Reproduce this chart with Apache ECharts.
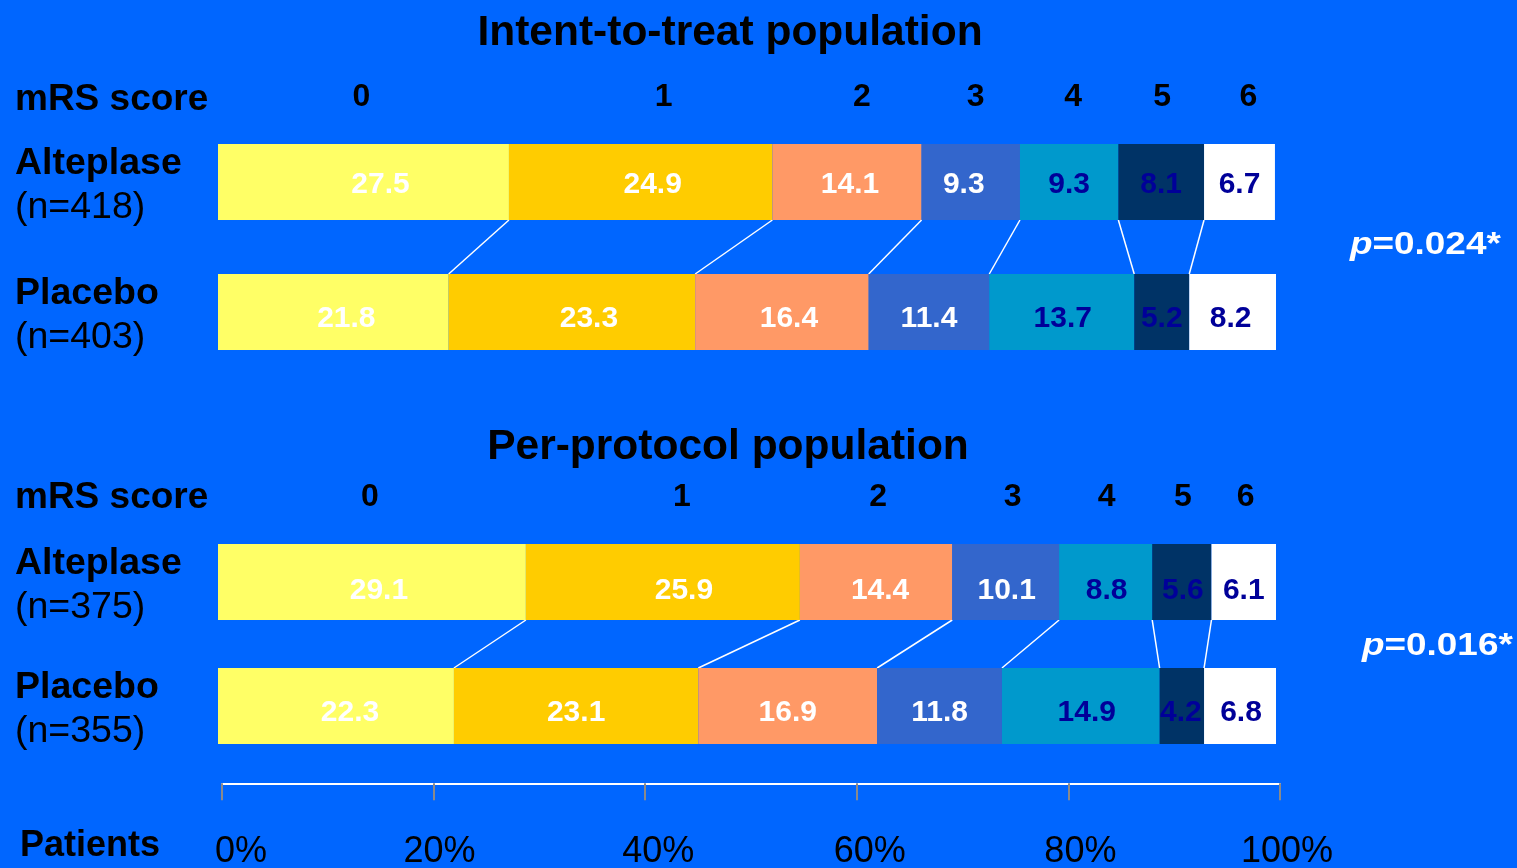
<!DOCTYPE html>
<html>
<head>
<meta charset="utf-8">
<script src="https://cdn.jsdelivr.net/npm/echarts@6/dist/echarts.min.js"></script>
<style>
  html, body { margin: 0; padding: 0; background: #0066FF; }
  #chart { width: 1517px; height: 868px; }
</style>
</head>
<body>
<div id="chart"></div>
<script>
// mRS outcome distribution (% of patients) by treatment arm
const mrsScores = ['0', '1', '2', '3', '4', '5', '6'];
const groups = ['Alteplase', 'Placebo'];
const panelTitles = ['Intent-to-treat population', 'Per-protocol population'];
const ittN = [418, 403];
const ppN = [375, 355];
const ittAlteplase = [27.5, 24.9, 14.1, 9.3, 9.3, 8.1, 6.7];
const ittPlacebo = [21.8, 23.3, 16.4, 11.4, 13.7, 5.2, 8.2];
const ppAlteplase = [29.1, 25.9, 14.4, 10.1, 8.8, 5.6, 6.1];
const ppPlacebo = [22.3, 23.1, 16.9, 11.8, 14.9, 4.2, 6.8];
const pValues = ['0.024', '0.016'];
const axisTickValues = [0, 20, 40, 60, 80, 100];

// ---- styling ----
const FONT = '"Liberation Sans", Arial, Helvetica, sans-serif';
const scoreColors = ['#FFFF66', '#FFCC00', '#FF9966', '#3366CC', '#0099CC', '#003366', '#FFFFFF'];
const valueColors = ['#FFFFFF', '#FFFFFF', '#FFFFFF', '#FFFFFF', '#000099', '#000099', '#000099'];
const BAR_H = 76;

// hand-tuned label nudges (px) per panel: [alteplase row, placebo row]
const valueLabelDx = [
  [[17, 12, 3, -7, 0, 0, 0], [13, 17, 7, 0, 1, 0, -2]],
  [[7, 21, 4, 1, 1, 1, 0], [14, 0, 0, 0, 6, -1, 1]]
];
const valueLabelDy = [[3, 7], [9, 7]];
const headerDx = [[-2, 23, 15, 5, 4, 1, 9], [-2, 19, 2, 7, 1, 1, 2]];

function cumulative(arr) {
  const out = [];
  let s = 0;
  arr.forEach(v => { out.push([s, s + v]); s += v; });
  return out;
}

const chart = echarts.init(document.getElementById('chart'));

const grids = [
  { left: 218, width: 1058, top: 117, height: 260 },
  { left: 218, width: 1058, top: 520, height: 248 },
  { left: 222, width: 1058, top: 783, height: 1 }
];

// per-tick label placement on the percentage axis
const tickRich = {};
const tickPad = [[0, 0, 0, 38], [0, 0, 0, 12], [0, 0, 0, 26], [0, 0, 0, 26], [0, 0, 0, 24], [0, 0, 10, 14]];
axisTickValues.forEach((v, i) => {
  tickRich['t' + i] = { fontSize: 36, fontFamily: FONT, color: '#000', padding: tickPad[i] };
});

const xAxes = [0, 1].map(i => ({
  type: 'value', gridIndex: i, min: 0, max: 100, show: false
}));
xAxes.push({
  type: 'value', gridIndex: 2, min: 0, max: 100, interval: 20,
  axisLine: { show: true, lineStyle: { color: '#FFFFFF', width: 2 } },
  axisTick: { show: true, length: 17, lineStyle: { color: '#8A8A8A', width: 2 } },
  splitLine: { show: false },
  axisLabel: {
    formatter: v => {
      const i = axisTickValues.indexOf(v);
      return i < 0 ? '' : `{t${i}|${v}%}`;
    },
    rich: tickRich,
    margin: 51
  }
});

const nCounts = [ittN, ppN];
const yAxes = [0, 1].map(i => ({
  type: 'category', gridIndex: i, inverse: true, data: groups,
  axisLine: { show: false }, axisTick: { show: false },
  axisLabel: {
    align: 'left', margin: 203, padding: [7, 0, 0, 0],
    formatter: (value, idx) => `{b|${value}}\n{n|(n=${nCounts[i][idx]})}`,
    rich: {
      b: { fontFamily: FONT, fontWeight: 'bold', fontSize: 37.5, lineHeight: 44, color: '#000' },
      n: { fontFamily: FONT, fontSize: 37.5, lineHeight: 44, color: '#000' }
    }
  }
}));
yAxes.push({ type: 'value', gridIndex: 2, show: false });

const series = [];
const panels = [[ittAlteplase, ittPlacebo], [ppAlteplase, ppPlacebo]];

panels.forEach(([alt, pla], p) => {
  // stacked segments, one series per mRS score
  mrsScores.forEach((score, k) => {
    series.push({
      type: 'bar', name: 'mRS ' + score, stack: 'panel' + p,
      xAxisIndex: p, yAxisIndex: p,
      barWidth: BAR_H,
      itemStyle: { color: scoreColors[k] },
      label: {
        show: true, position: 'inside',
        formatter: d => d.value.toFixed(1),
        color: valueColors[k], fontFamily: FONT, fontWeight: 'bold', fontSize: 30
      },
      data: [alt[k], pla[k]].map((v, r) => ({
        value: v,
        label: { offset: [valueLabelDx[p][r][k], valueLabelDy[p][r]] }
      }))
    });
  });

  const altCum = cumulative(alt);
  const plaCum = cumulative(pla);

  // connectors joining segment boundaries of the two arms
  const joins = altCum.slice(0, -1).map((c, k) => [c[1], plaCum[k][1], 0]);
  series.push({
    type: 'custom', xAxisIndex: p, yAxisIndex: p, silent: true,
    encode: { x: [0, 1], y: 2 },
    renderItem: (params, api) => {
      const a = api.coord([api.value(0), 0]);
      const b = api.coord([api.value(1), 1]);
      return {
        type: 'line',
        shape: { x1: a[0], y1: a[1] + BAR_H / 2, x2: b[0], y2: b[1] - BAR_H / 2 },
        style: { stroke: '#FFFFFF', lineWidth: 1.5 }
      };
    },
    data: joins
  });

  // mRS score headers above the alteplase segments
  const heads = altCum.map((c, k) => [c[0], c[1], 0]);
  series.push({
    type: 'custom', xAxisIndex: p, yAxisIndex: p, silent: true, clip: false,
    encode: { x: [0, 1], y: 2 },
    renderItem: (params, api) => {
      const k = params.dataIndex;
      const c = api.coord([(api.value(0) + api.value(1)) / 2, 0]);
      return {
        type: 'text',
        style: {
          text: mrsScores[k], x: c[0] + headerDx[p][k], y: c[1] - 85,
          align: 'center', verticalAlign: 'middle',
          fill: '#000', font: 'bold 32px ' + FONT
        }
      };
    },
    data: heads
  });
});

const textStyleBase = { fill: '#000', fontFamily: FONT };
const graphic = [
  { type: 'text', x: 730, y: 33, style: Object.assign({ text: panelTitles[0], align: 'center', verticalAlign: 'middle', fontSize: 42.5, fontWeight: 'bold' }, textStyleBase) },
  { type: 'text', x: 728, y: 447, style: Object.assign({ text: panelTitles[1], align: 'center', verticalAlign: 'middle', fontSize: 42.5, fontWeight: 'bold' }, textStyleBase) },
  { type: 'text', x: 15, y: 100, style: Object.assign({ text: 'mRS score', verticalAlign: 'middle', fontSize: 37, fontWeight: 'bold' }, textStyleBase) },
  { type: 'text', x: 15, y: 498, style: Object.assign({ text: 'mRS score', verticalAlign: 'middle', fontSize: 37, fontWeight: 'bold' }, textStyleBase) },
  { type: 'text', x: 20, y: 846, style: Object.assign({ text: 'Patients', verticalAlign: 'middle', fontSize: 36, fontWeight: 'bold' }, textStyleBase) },
  ...pValues.map((pv, i) => ({
    type: 'text', x: i === 0 ? 1350 : 1362, y: i === 0 ? 245 : 646,
    scaleX: 1.19,
    style: {
      text: `{i|p}{r|=${pv}*}`, verticalAlign: 'middle',
      rich: {
        i: { fill: '#FFFFFF', fontFamily: FONT, fontSize: 31, fontWeight: 'bold', fontStyle: 'italic' },
        r: { fill: '#FFFFFF', fontFamily: FONT, fontSize: 31, fontWeight: 'bold' }
      }
    }
  }))
];

chart.setOption({
  backgroundColor: '#0066FF',
  animation: false,
  grid: grids,
  xAxis: xAxes,
  yAxis: yAxes,
  series: series,
  graphic: graphic
});
</script>
</body>
</html>
